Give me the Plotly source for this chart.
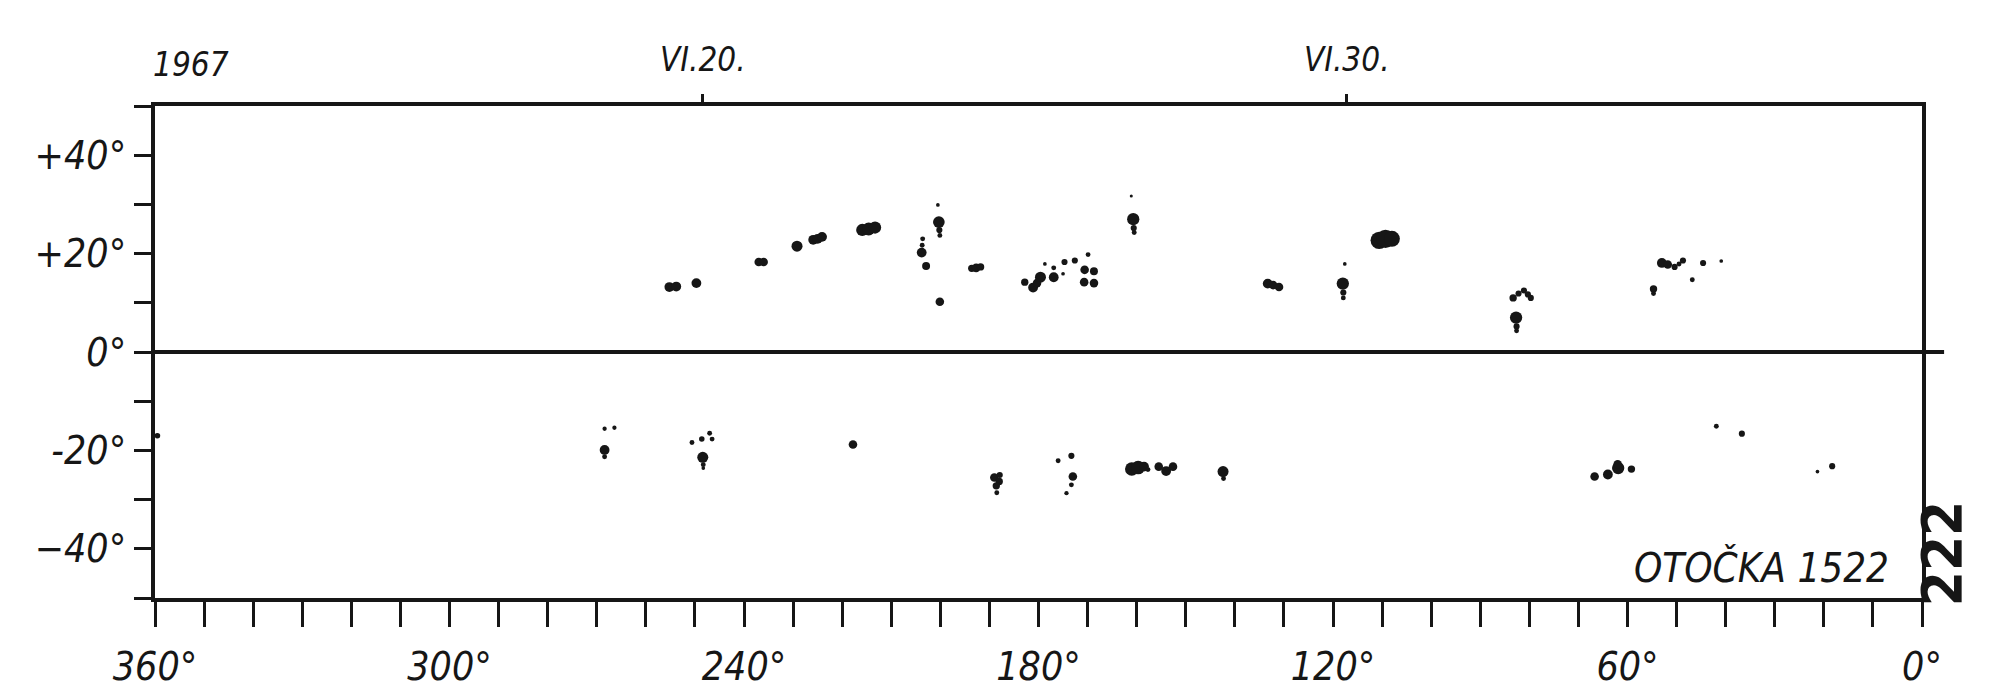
import plotly.graph_objects as go

# ---- axis ticks / labels ----
lon_ticks = list(range(0, 361, 10))
lon_label_map = {360: "360°", 300: "300°", 240: "240°", 180: "180°", 120: "120°", 60: "60°", 0: "0°"}
lat_ticks = list(range(-50, 51, 10))
lat_label_map = {40: "+40°", 20: "+20°", 0: "0°", -20: "-20°", -40: "−40°"}
date_lon = [248.4, 117.2]
date_labels = ["VI.20.", "VI.30."]
year_label = "1967"
rotation_label = "OTOČKA 1522"
page_label = "222"

# ---- sunspot positions (Carrington longitude, latitude, umbra diameter in degrees) ----
north_lon = [255.2, 253.8, 249.7, 237.0, 236.0, 229.2, 225.9, 225.0, 224.1, 215.9, 214.6, 213.3,
             200.5, 200.3, 200.2, 200.1, 203.8, 203.7, 203.6, 202.9, 200.1,
             193.6, 192.7, 191.8, 182.8, 181.1, 179.6, 176.9, 180.3,
             178.7, 176.9, 174.7, 172.6, 175.0, 169.9, 170.6, 168.7, 170.7, 168.7,
             161.1, 160.7, 160.6, 160.5, 133.3, 132.2, 131.0, 117.6, 118.0, 117.9, 117.9,
             110.6, 109.3, 108.0, 83.3, 82.2, 81.1, 80.3, 79.7, 82.7, 82.6, 82.6,
             53.0, 51.8, 50.4, 48.7, 49.5, 44.6, 40.9, 46.8, 54.7, 54.7]
north_lat = [13.2, 13.3, 14.0, 18.3, 18.3, 21.5, 22.8, 23.0, 23.4, 24.8, 25.0, 25.3,
             29.9, 26.4, 24.8, 23.7, 20.2, 21.7, 23.0, 17.5, 10.2,
             17.0, 17.1, 17.3, 14.2, 13.1, 15.2, 15.2, 14.0,
             17.9, 17.1, 18.3, 18.6, 15.9, 19.8, 16.7, 16.4, 14.2, 14.0,
             31.7, 27.0, 25.2, 24.3, 13.9, 13.6, 13.2, 17.9, 13.9, 12.1, 11.0,
             22.7, 23.0, 23.0, 11.0, 11.9, 12.5, 11.7, 11.0, 7.0, 5.2, 4.3,
             18.1, 17.8, 17.3, 18.6, 17.9, 18.1, 18.5, 14.7, 12.8, 11.9]
north_diam = [1.6, 1.6, 1.6, 1.4, 1.4, 1.8, 1.6, 1.6, 1.6, 2.0, 2.1, 2.0,
              0.6, 1.9, 1.0, 0.8, 1.6, 0.8, 0.8, 1.3, 1.4,
              1.2, 1.4, 1.2, 1.2, 1.6, 1.8, 1.6, 1.4,
              0.6, 0.8, 1.0, 1.0, 0.6, 0.8, 1.4, 1.3, 1.4, 1.4,
              0.5, 2.0, 1.0, 0.8, 1.6, 1.4, 1.4, 0.6, 2.0, 1.0, 0.8,
              2.8, 3.0, 2.6, 1.2, 1.0, 1.0, 1.0, 1.0, 2.0, 1.0, 0.8,
              1.6, 1.4, 1.0, 1.0, 0.8, 1.0, 0.6, 0.8, 1.2, 0.8]

south_lon = [359.5, 268.4, 266.4, 268.4, 268.4, 250.6, 248.6, 247.0, 246.5, 248.4, 248.3, 248.3,
             217.8, 189.0, 188.0, 188.6, 188.5, 187.9, 176.0, 173.3, 173.0, 173.3, 174.3,
             161.0, 159.7, 158.5, 157.7, 155.5, 154.0, 152.6, 142.4, 142.3,
             66.7, 64.0, 61.9, 62.0, 59.2, 41.9, 36.7, 21.3, 18.3]
south_lat = [-17.0, -15.6, -15.4, -19.9, -21.3, -18.4, -17.7, -16.5, -17.7, -21.4, -22.9, -23.6,
             -18.8, -25.5, -26.3, -27.2, -28.6, -25.0, -22.1, -21.1, -25.3, -27.0, -28.7,
             -23.8, -23.5, -23.3, -23.9, -23.3, -24.2, -23.3, -24.3, -25.7,
             -25.3, -24.9, -23.6, -22.8, -23.8, -15.1, -16.6, -24.3, -23.2]
south_diam = [0.9, 0.7, 0.7, 1.6, 0.8, 0.8, 0.9, 0.8, 0.8, 1.8, 0.8, 0.6,
              1.4, 1.4, 1.2, 1.2, 0.8, 1.0, 0.8, 1.0, 1.4, 0.8, 0.7,
              2.2, 2.2, 1.6, 0.8, 1.4, 1.6, 1.4, 1.8, 0.8,
              1.4, 1.6, 2.0, 1.4, 1.2, 0.8, 1.0, 0.6, 1.0]

# ---- layout geometry ----
W, H = 2000, 693
ML, MR, MT, MB = 147, 86, 98, 101
px_per_deg = (W - ML - MR) / 360.0
INK_SPREAD = 1.25   # printed ink spread of the hand-drawn spots
INK = "#161616"
FONT = "DejaVu Sans Condensed, Liberation Sans, Arial, sans-serif"

fig = go.Figure()
for lons, lats, diam in [(north_lon, north_lat, north_diam), (south_lon, south_lat, south_diam)]:
    fig.add_trace(go.Scatter(
        x=lons, y=lats, mode="markers",
        marker=dict(size=[d * px_per_deg * INK_SPREAD for d in diam], color=INK,
                    opacity=1, line=dict(width=0)),
        showlegend=False, hoverinfo="x+y"))
# carrier for the date axis on top
fig.add_trace(go.Scatter(x=[], y=[], xaxis="x2", yaxis="y", showlegend=False))

fig.update_layout(
    width=W, height=H,
    margin=dict(l=ML, r=MR, t=MT, b=MB, pad=0),
    paper_bgcolor="white", plot_bgcolor="white",
    showlegend=False,
    xaxis=dict(
        range=[360, 0], tickmode="array", tickvals=lon_ticks,
        ticktext=[lon_label_map.get(v, "") for v in lon_ticks],
        ticks="outside", ticklen=25, tickwidth=3, tickcolor=INK,
        showline=True, linewidth=4, linecolor=INK, mirror=True,
        showgrid=False, zeroline=False,
        tickfont=dict(family=FONT, size=39, color=INK, style="italic"),
        ticklabelstandoff=6,
    ),
    xaxis2=dict(
        overlaying="x", side="top", anchor="y", range=[360, 0],
        tickmode="array", tickvals=date_lon, ticktext=date_labels,
        ticks="outside", ticklen=11, tickwidth=3, tickcolor=INK,
        showline=False, showgrid=False, zeroline=False,
        tickfont=dict(family=FONT, size=33, color=INK, style="italic"),
        ticklabelstandoff=10,
    ),
    yaxis=dict(
        range=[-50, 50], tickmode="array", tickvals=lat_ticks,
        ticktext=[lat_label_map.get(v, "") for v in lat_ticks],
        ticks="outside", ticklen=17, tickwidth=3, tickcolor=INK,
        showline=True, linewidth=4, linecolor=INK, mirror=True,
        showgrid=False, zeroline=True, zerolinewidth=4, zerolinecolor=INK,
        tickfont=dict(family=FONT, size=39, color=INK, style="italic"),
    ),
    annotations=[
        dict(text=year_label, xref="paper", yref="paper", x=0.0204, y=1.085,
             xanchor="center", yanchor="middle", showarrow=False,
             font=dict(family=FONT, size=33, color=INK, style="italic")),
        dict(text=rotation_label, xref="paper", yref="paper", x=0.9825, y=0.061,
             xanchor="right", yanchor="middle", showarrow=False,
             font=dict(family=FONT, size=40, color=INK, style="italic")),
        dict(text=page_label, xref="paper", yref="paper", x=1.011, y=0.09,
             xanchor="center", yanchor="middle", showarrow=False, textangle=-90,
             font=dict(family=FONT, size=56, color=INK, weight="bold")),
    ],
    shapes=[
        dict(type="line", xref="paper", yref="paper", x0=1.0, x1=1.0125, y0=0.5, y1=0.5,
             line=dict(color=INK, width=4)),
    ],
)

fig.write_html("out.html")
